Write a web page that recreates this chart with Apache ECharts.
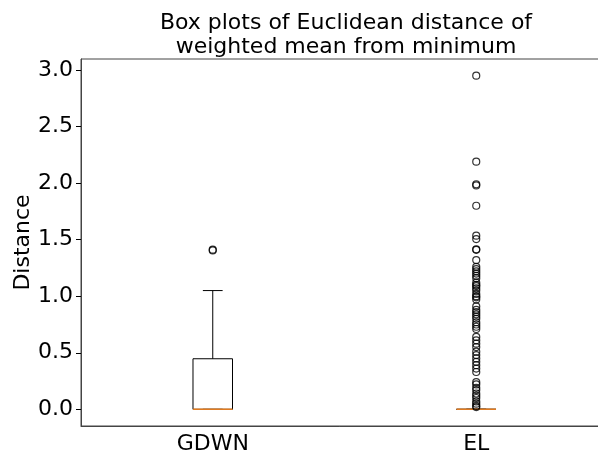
<!DOCTYPE html>
<html>
<head>
<meta charset="utf-8">
<script src="https://cdn.jsdelivr.net/npm/echarts@6/dist/echarts.min.js"></script>
<style>html,body{margin:0;padding:0;background:#fff}#c{width:598px;height:453px}</style>
</head>
<body>
<div id="c"></div>
<script>
const categories = ['GDWN', 'EL'];
// [min whisker, Q1, median, Q3, max whisker]
const boxGDWN = [0, 0, 0, 0.447, 1.05];
const boxEL = [0, 0, 0, 0, 0];
const outliersGDWN = [1.405, 1.412];
const outliersEL = [2.95, 2.19, 1.99, 1.98, 1.80, 1.535, 1.505, 1.41, 1.415, 1.32,
  1.26, 1.24, 1.22, 1.20, 1.18, 1.16, 1.12, 1.10, 1.09, 1.07, 1.05, 1.02, 1.00, 0.99, 0.97,
  0.91, 0.88, 0.86, 0.84, 0.82, 0.80, 0.77, 0.75, 0.73, 0.71,
  0.64, 0.61, 0.58, 0.55, 0.51, 0.48, 0.45, 0.42, 0.39, 0.36, 0.33,
  0.24, 0.22, 0.19, 0.17, 0.14, 0.12, 0.10, 0.07, 0.05, 0.03, 0.02];
const yTicks = [0, 0.5, 1.0, 1.5, 2.0, 2.5, 3.0];

const boxData = [[0].concat(boxGDWN), [1].concat(boxEL)];
const outlierData = outliersGDWN.map(v => [0, v]).concat(outliersEL.map(v => [1, v]));

const chart = echarts.init(document.getElementById('c'), null, {renderer: 'canvas'});

function renderBox(params, api) {
  const xi = api.value(0);
  const band = api.size([1, 0])[0];
  const w = band * 0.15;
  const cap = w / 2;
  const pMin = api.coord([xi, api.value(1)]);
  const pQ1 = api.coord([xi, api.value(2)]);
  const pMed = api.coord([xi, api.value(3)]);
  const pQ3 = api.coord([xi, api.value(4)]);
  const pMax = api.coord([xi, api.value(5)]);
  const x = pQ1[0];
  const lineStyle = {stroke: '#000', lineWidth: 1, fill: null};
  return {
    type: 'group',
    children: [
      {type: 'rect', shape: {x: x - w / 2, y: pQ3[1], width: w, height: pQ1[1] - pQ3[1]}, style: {stroke: '#000', lineWidth: 1, fill: 'none'}},
      {type: 'line', shape: {x1: x, y1: pQ3[1], x2: x, y2: pMax[1]}, style: lineStyle},
      {type: 'line', shape: {x1: x, y1: pQ1[1], x2: x, y2: pMin[1]}, style: lineStyle},
      {type: 'line', shape: {x1: x - cap / 2, y1: pMax[1], x2: x + cap / 2, y2: pMax[1]}, style: lineStyle},
      {type: 'line', shape: {x1: x - cap / 2, y1: pMin[1], x2: x + cap / 2, y2: pMin[1]}, style: lineStyle},
      {type: 'line', shape: {x1: x - w / 2, y1: pMed[1], x2: x + w / 2, y2: pMed[1]}, style: {stroke: '#e07a1f', lineWidth: 1.5}}
    ]
  };
}

const option = {
  backgroundColor: '#fff',
  animation: false,
  title: {
    text: 'Box plots of Euclidean distance of\nweighted mean from minimum',
    left: 341, top: 6, textAlign: 'center',
    textStyle: {fontFamily: 'DejaVu Sans', fontSize: 22, fontWeight: 'normal', color: '#000', lineHeight: 24}
  },
  grid: {left: 81, width: 527, top: 59, height: 367, outerBoundsMode: 'none', containLabel: false,
    show: true, borderColor: '#444', borderWidth: 1, backgroundColor: 'transparent'},
  xAxis: {
    type: 'category', data: categories, boundaryGap: true,
    axisLine: {onZero: false, lineStyle: {color: '#444', width: 1}},
    axisTick: {alignWithLabel: true, length: 5, lineStyle: {color: '#000'}},
    axisLabel: {fontFamily: 'DejaVu Sans', fontSize: 22, color: '#000', margin: 7},
    splitLine: {show: false}
  },
  yAxis: {
    type: 'value', min: -0.1475, max: 3.0975,
    name: 'Distance', nameLocation: 'middle', nameGap: 47, nameMoveOverlap: false,
    nameTextStyle: {fontFamily: 'DejaVu Sans', fontSize: 22, color: '#000'},
    axisLine: {show: true, lineStyle: {color: '#444', width: 1}},
    axisTick: {show: true, length: 5, customValues: yTicks, lineStyle: {color: '#000'}},
    axisLabel: {fontFamily: 'DejaVu Sans', fontSize: 22, color: '#000', margin: 8, customValues: yTicks,
      formatter: v => Number(v).toFixed(1)},
    splitLine: {show: false}
  },
  series: [
    {type: 'custom', renderItem: renderBox, data: boxData, encode: {x: 0, y: [1, 2, 3, 4, 5]}, z: 2},
    {type: 'scatter', data: outlierData, symbol: 'circle', symbolSize: 7,
      itemStyle: {color: 'rgba(0,0,0,0)', borderColor: '#000', borderWidth: 1.2}, z: 3}
  ]
};
chart.setOption(option);
</script>
</body>
</html>
